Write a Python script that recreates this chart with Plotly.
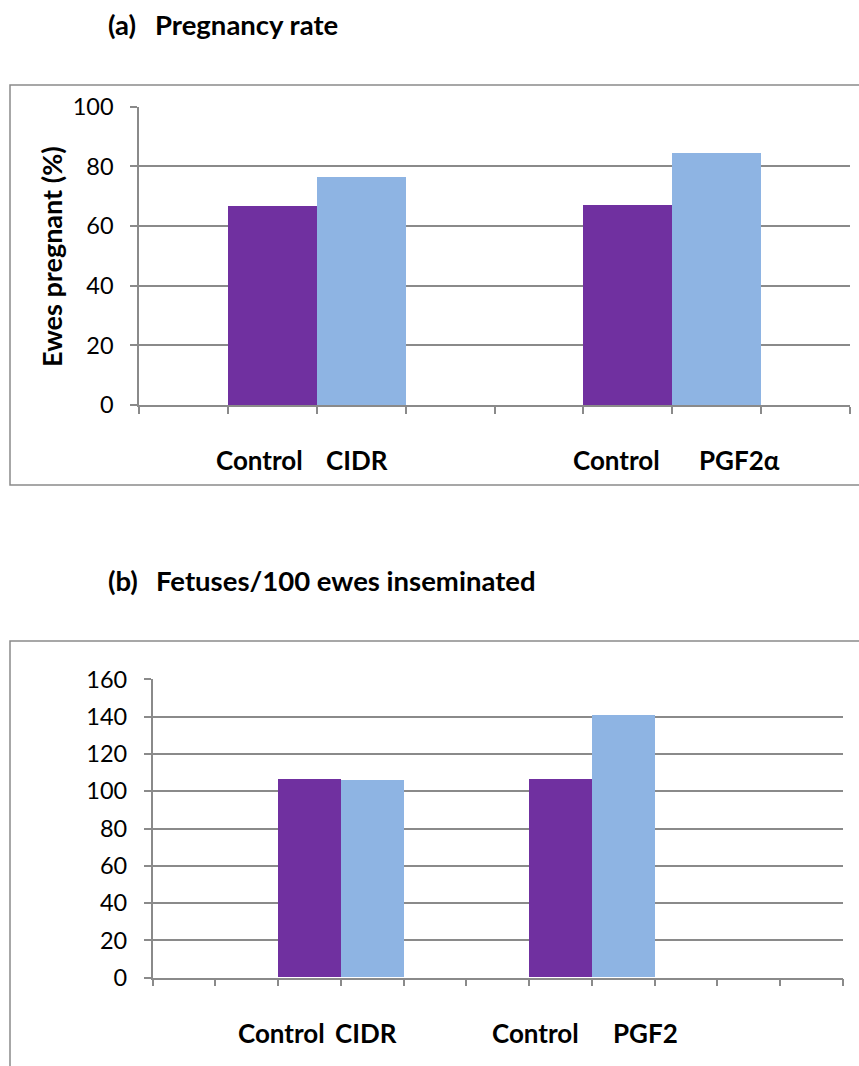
import plotly.graph_objects as go

# ---- data -------------------------------------------------------------
# (a) pregnancy rate, % of ewes pregnant
preg_groups = ["Control", "CIDR", "Control", "PGF2α"]
preg_control = [66.7, 67.1]      # control bars of the two trials
preg_treated = [76.5, 84.6]      # CIDR, PGF2α

# (b) fetuses per 100 ewes inseminated
fet_groups = ["Control", "CIDR", "Control", "PGF2"]
fet_control = [106.4, 106.4]
fet_treated = [106.0, 140.6]

preg_ticks = [0, 20, 40, 60, 80, 100]
fet_ticks = [0, 20, 40, 60, 80, 100, 120, 140, 160]

# ---- layout helpers ---------------------------------------------------
W, H = 859, 1066
def px_x(v):
    return v / W
def px_y(v):
    return 1 - v / H

PURPLE = "#7030A0"
BLUE = "#8EB4E3"
GRID = "#8a8a8a"
FONT = "Lato"

# slot layout of each panel: number of category slots and where bars sit
A_SLOTS, A_CTRL_POS, A_TRT_POS = 8, [1, 5], [2, 6]
B_SLOTS, B_CTRL_POS, B_TRT_POS = 11, [2, 6], [3, 7]
# label centres (in slot units) under the bars
A_LABEL_X = [0.86, 1.95, 4.87, 6.26]
B_LABEL_X = [1.55, 2.90, 5.61, 7.36]

fig = go.Figure()
fig.add_trace(go.Bar(x=A_CTRL_POS, y=preg_control, width=1, marker=dict(color=PURPLE, line=dict(width=0)),
                     xaxis="x", yaxis="y", showlegend=False, hoverinfo="y"))
fig.add_trace(go.Bar(x=A_TRT_POS, y=preg_treated, width=1, marker=dict(color=BLUE, line=dict(width=0)),
                     xaxis="x", yaxis="y", showlegend=False, hoverinfo="y"))
fig.add_trace(go.Bar(x=B_CTRL_POS, y=fet_control, width=1, marker=dict(color=PURPLE, line=dict(width=0)),
                     xaxis="x2", yaxis="y2", showlegend=False, hoverinfo="y"))
fig.add_trace(go.Bar(x=B_TRT_POS, y=fet_treated, width=1, marker=dict(color=BLUE, line=dict(width=0)),
                     xaxis="x2", yaxis="y2", showlegend=False, hoverinfo="y"))

def xaxis(domain, nslots, anchor):
    return dict(domain=domain, anchor=anchor, range=[-0.5, nslots - 0.5],
                tickmode="array", tickvals=[i - 0.5 for i in range(nslots + 1)],
                showticklabels=False, ticks="outside", ticklen=7, tickwidth=1.5,
                tickcolor=GRID, showgrid=False, zeroline=False, automargin=False,
                showline=True, linecolor=GRID, linewidth=1.5, fixedrange=True)

def yaxis(domain, ticks, anchor):
    return dict(domain=domain, anchor=anchor, range=[ticks[0], ticks[-1]],
                tickmode="array", tickvals=ticks, ticks="outside", ticklen=7,
                tickwidth=1.5, tickcolor=GRID, showgrid=True, gridcolor=GRID,
                gridwidth=1.5, zeroline=False, showline=True, linecolor=GRID,
                linewidth=1.5, ticklabelstandoff=12, automargin=False,
                tickfont=dict(family=FONT, size=23.5, color="#000000"), fixedrange=True)

fig.update_layout(
    width=W, height=H, margin=dict(l=0, r=0, t=0, b=0, autoexpand=False),
    paper_bgcolor="white", plot_bgcolor="white", bargap=0,
    xaxis=xaxis([px_x(139), px_x(850)], A_SLOTS, "y"),
    yaxis=yaxis([px_y(405), px_y(106.7)], preg_ticks, "x"),
    xaxis2=xaxis([px_x(152.7), px_x(842.7)], B_SLOTS, "y2"),
    yaxis2=yaxis([px_y(977.7), px_y(679.3)], fet_ticks, "x2"),
)

# chart-area frames
fig.add_shape(type="rect", xref="paper", yref="paper",
              x0=px_x(10), x1=px_x(875), y0=px_y(485), y1=px_y(85),
              line=dict(color=GRID, width=1.5), fillcolor="rgba(0,0,0,0)", layer="below")
fig.add_shape(type="rect", xref="paper", yref="paper",
              x0=px_x(10), x1=px_x(875), y0=px_y(1085), y1=px_y(641),
              line=dict(color=GRID, width=1.5), fillcolor="rgba(0,0,0,0)", layer="below")

title_font = dict(family=FONT, size=27.5, color="#000000")
label_font = dict(family=FONT, size=26, color="#000000")
ann = []
# panel titles
ann.append(dict(text="<b>(a)</b>", x=px_x(106), y=px_y(25)))
ann.append(dict(text="<b>Pregnancy rate</b>", x=px_x(153), y=px_y(25)))
ann.append(dict(text="<b>(b)</b>", x=px_x(106), y=px_y(580)))
ann.append(dict(text="<b>Fetuses/100 ewes inseminated</b>", x=px_x(154), y=px_y(580)))
for a in ann:
    a.update(xref="paper", yref="paper", showarrow=False, font=title_font,
             xanchor="left", yanchor="middle")

# y-axis title of panel (a)
ann.append(dict(text="<b>Ewes pregnant (%)</b>", x=px_x(51), y=px_y(257), xref="paper", yref="paper",
                textangle=-90, showarrow=False, font=dict(family=FONT, size=27, color="#000000"),
                xanchor="center", yanchor="middle"))

# group labels under the bars
for lbl, xv in zip(preg_groups, A_LABEL_X):
    ann.append(dict(text=f"<b>{lbl}</b>", x=xv, y=px_y(460), xref="x", yref="paper",
                    showarrow=False, font=label_font, xanchor="center", yanchor="middle"))
for lbl, xv in zip(fet_groups, B_LABEL_X):
    ann.append(dict(text=f"<b>{lbl}</b>", x=xv, y=px_y(1033), xref="x2", yref="paper",
                    showarrow=False, font=label_font, xanchor="center", yanchor="middle"))

fig.update_layout(annotations=ann)
fig.write_html("out.html")
